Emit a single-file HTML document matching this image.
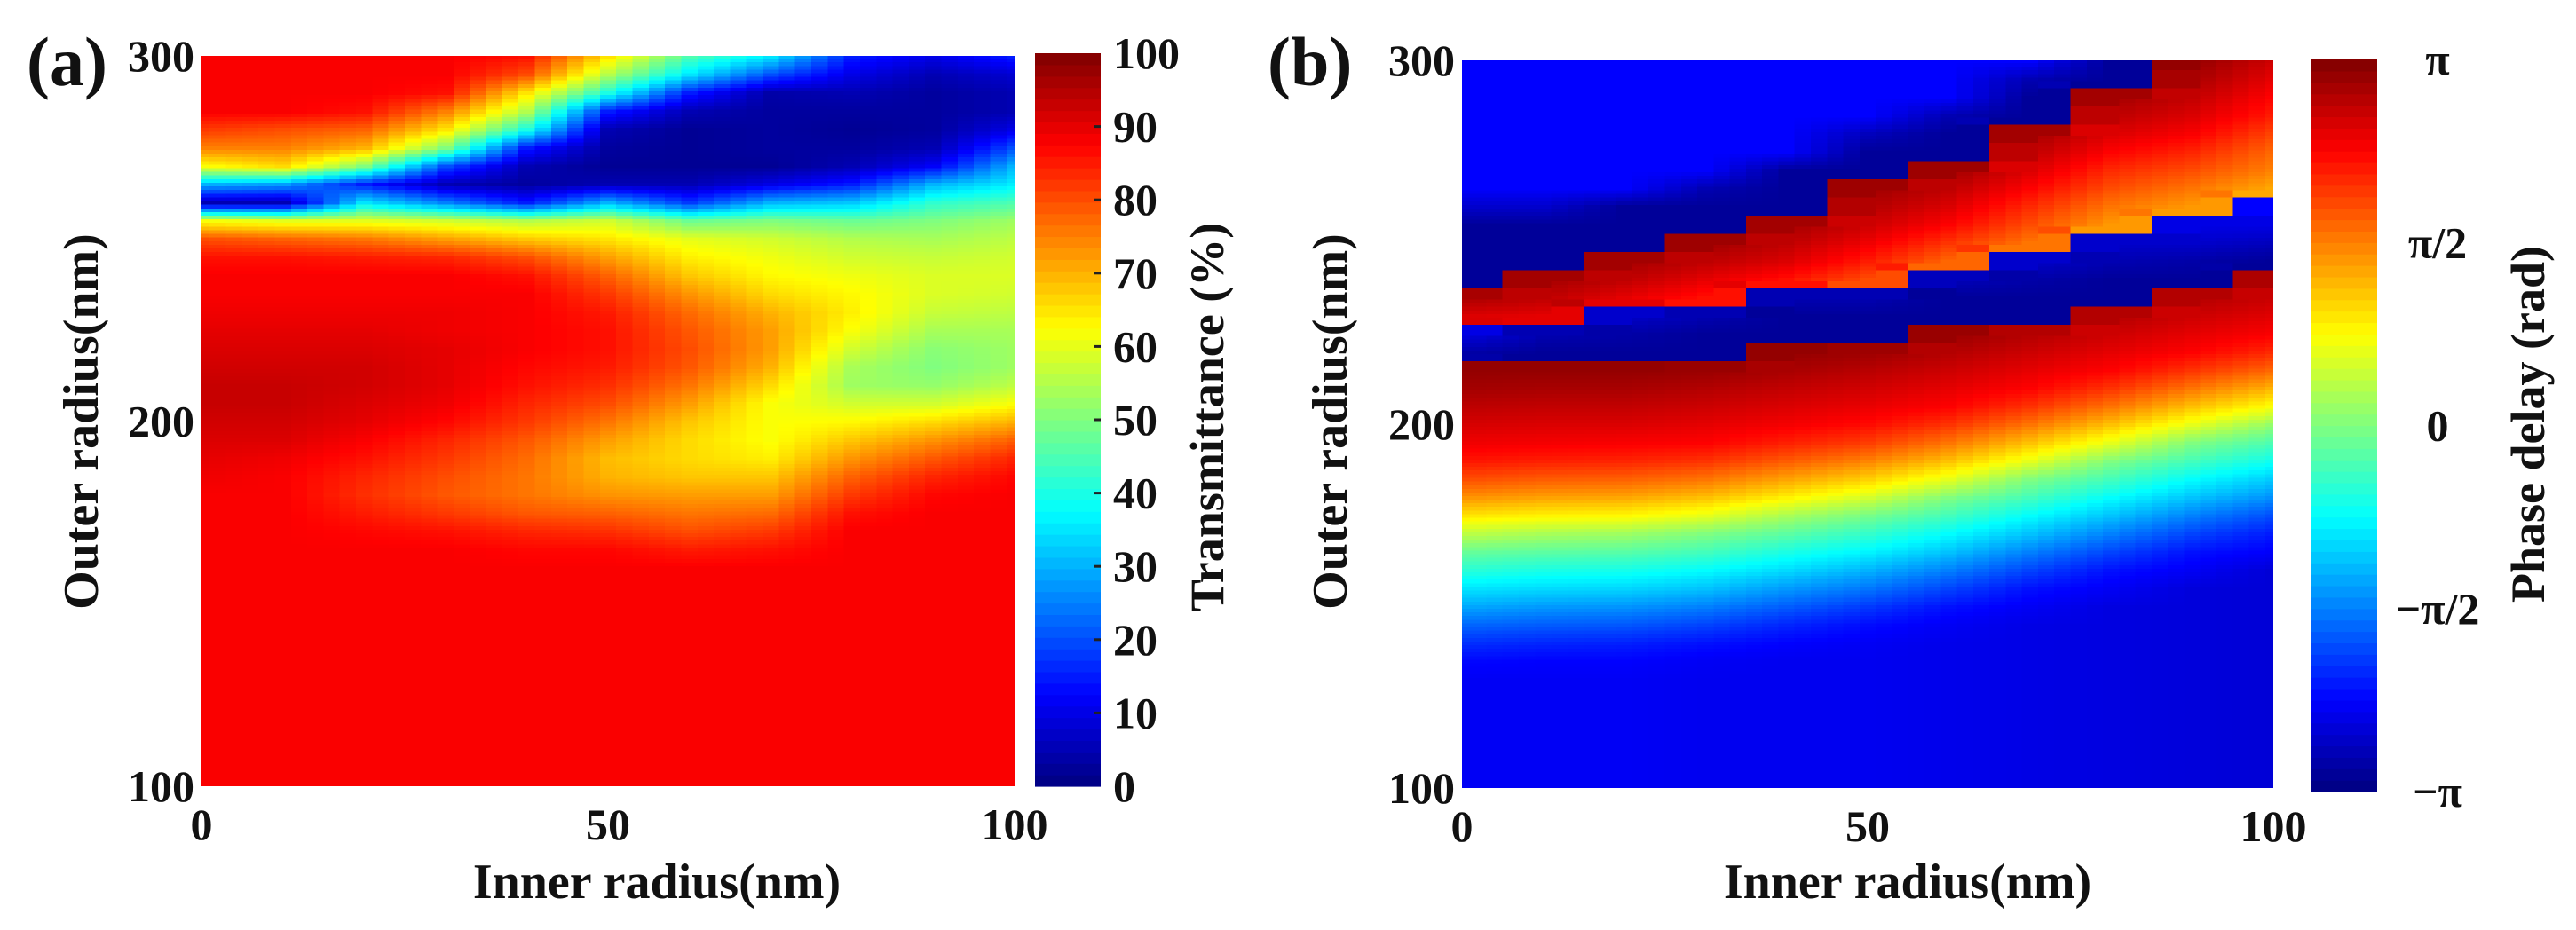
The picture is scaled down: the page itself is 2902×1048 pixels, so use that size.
<!DOCTYPE html>
<html><head><meta charset="utf-8"><style>
html,body{margin:0;padding:0;background:#fff;}
svg{display:block;}
text{font-family:"Liberation Serif","DejaVu Serif",serif;font-weight:bold;fill:#111;}
</style></head>
<body>
<svg id="fig" width="2902" height="1048" viewBox="0 0 2902 1048" xmlns="http://www.w3.org/2000/svg">
<defs>
<clipPath id="clipA"><rect x="227" y="63" width="916" height="823"/></clipPath>
<clipPath id="clipB"><rect x="1647" y="68" width="914" height="820"/></clipPath>
</defs>
<g id="panelA">
<text x="30" y="96" font-size="78" font-weight="normal">(a)</text>
<g id="heatA" clip-path="url(#clipA)" shape-rendering="crispEdges"></g>
<g id="axesA"></g>
<text x="740" y="1012" font-size="56" text-anchor="middle">Inner radius(nm)</text>
<text transform="translate(110,475) rotate(-90)" font-size="56" text-anchor="middle">Outer radius(nm)</text>
<g id="cbarA"></g>
<text transform="translate(1378,470) rotate(-90)" font-size="54" text-anchor="middle">Transmittance (%)</text>
</g>
<g id="panelB">
<text x="1428" y="96" font-size="78" font-weight="normal">(b)</text>
<g id="heatB" clip-path="url(#clipB)" shape-rendering="crispEdges"></g>
<g id="axesB"></g>
<text x="2149" y="1012" font-size="56" text-anchor="middle">Inner radius(nm)</text>
<text transform="translate(1517,475) rotate(-90)" font-size="56" text-anchor="middle">Outer radius(nm)</text>
<g id="cbarB"></g>
<text transform="translate(2866,478) rotate(-90)" font-size="54" text-anchor="middle">Phase delay (rad)</text>
</g>
</svg>
<script>
// ---- data ----
const innerRadius = [0,10,20,30,40,50,60,70,80,90,100];
const outerRadius = [300,295,290,285,280,275,270,265,260,255,250,245,240,235,230,225,220,215,210,205,200,195,190,185,180,175,170,165,160,155,150,145,140,135,130,125,120,115,110,105,100];
const xTicks = [0,50,100];
const yTicks = [100,200,300];
const cbarATicks = [0,10,20,30,40,50,60,70,80,90,100];
const cbarBTickValues = [-1,-0.5,0,0.5,1];
const cbarBTickLabels = ['\u2212\u03c0','\u2212\u03c0/2','0','\u03c0/2','\u03c0'];

// Transmittance (%) per inner-radius column, rows top (300nm) to bottom (100nm)
const transA0 = [88,88,88,88,82,75,62,30,5,62,80,86,88,88,89,90,91,92,93,93,92,91,90,89,88,88,88,88,88,88,88,88,88,88,88,88,88,88,88,88,88];
const transA10 = [88,88,88,88,80,75,66,28,5,60,78,86,88,88,89,90,91,92,93,93,92,91,89,88,88,88,88,88,88,88,88,88,88,88,88,88,88,88,88,88,88];
const transA20 = [88,88,88,86,78,70,50,15,35,60,76,85,88,88,89,90,91,92,92,91,90,88,86,84,83,85,87,88,88,88,88,88,88,88,88,88,88,88,88,88,88];
const transA30 = [88,88,86,75,65,50,20,5,25,58,72,84,88,88,89,89,90,90,90,89,87,84,82,80,79,82,86,88,88,88,88,88,88,88,88,88,88,88,88,88,88];
const transA40 = [86,80,65,55,40,15,5,3,15,55,68,80,86,88,88,88,88,87,86,84,82,79,77,76,76,79,84,87,88,88,88,88,88,88,88,88,88,88,88,88,88];
const transA50 = [65,55,40,15,5,3,2,5,30,58,65,72,78,82,85,86,86,85,83,80,76,72,69,70,73,78,83,87,88,88,88,88,88,88,88,88,88,88,88,88,88];
const transA60 = [45,35,15,5,2,2,2,5,18,48,60,64,68,73,77,79,80,79,76,72,68,66,66,68,72,76,80,85,88,88,88,88,88,88,88,88,88,88,88,88,88];
const transA70 = [35,20,4,3,3,3,2,10,30,50,58,61,63,66,70,72,72,70,66,62,62,62,64,68,72,77,82,86,88,88,88,88,88,88,88,88,88,88,88,88,88];
const transA80 = [15,10,5,3,2,3,5,15,32,48,55,58,61,63,64,62,58,54,53,58,63,68,73,78,82,86,88,88,88,88,88,88,88,88,88,88,88,88,88,88,88];
const transA90 = [10,5,3,3,3,5,12,30,42,50,54,57,59,59,57,54,51,50,52,58,66,73,79,84,87,88,88,88,88,88,88,88,88,88,88,88,88,88,88,88,88];
const transA100 = [15,8,5,5,10,20,30,36,45,53,56,58,59,58,56,54,53,53,56,62,70,78,84,87,88,88,88,88,88,88,88,88,88,88,88,88,88,88,88,88,88];

// Phase delay (units of pi) per inner-radius column, rows top (300nm) to bottom (100nm)
const phaseB0 = [-0.75,-0.75,-0.75,-0.75,-0.75,-0.75,-0.75,-0.75,-0.85,-0.95,-0.95,-0.95,-0.95,0.92,0.82,-0.8,-0.92,0.96,0.93,0.88,0.83,0.78,0.71,0.6,0.46,0.3,0.12,-0.05,-0.17,-0.3,-0.42,-0.55,-0.66,-0.74,-0.77,-0.77,-0.77,-0.77,-0.77,-0.77,-0.77];
const phaseB10 = [-0.75,-0.75,-0.75,-0.75,-0.75,-0.75,-0.75,-0.75,-0.85,-0.95,-0.95,-0.95,0.93,0.88,0.8,-0.9,-0.95,0.96,0.92,0.87,0.82,0.77,0.69,0.57,0.43,0.27,0.08,-0.07,-0.2,-0.32,-0.45,-0.57,-0.68,-0.75,-0.77,-0.77,-0.77,-0.77,-0.77,-0.77,-0.77];
const phaseB20 = [-0.75,-0.75,-0.75,-0.75,-0.75,-0.75,-0.75,-0.75,-0.95,-0.95,-0.95,0.93,0.88,0.8,-0.85,-0.92,-0.95,0.96,0.92,0.87,0.82,0.76,0.68,0.56,0.42,0.26,0.06,-0.08,-0.21,-0.33,-0.46,-0.58,-0.69,-0.75,-0.77,-0.77,-0.77,-0.77,-0.77,-0.77,-0.77];
const phaseB30 = [-0.75,-0.75,-0.75,-0.75,-0.75,-0.75,-0.75,-0.9,-0.95,-0.95,0.94,0.88,0.8,0.72,-0.9,-0.95,-0.95,0.95,0.9,0.85,0.8,0.75,0.65,0.52,0.37,0.2,0,-0.12,-0.25,-0.37,-0.5,-0.62,-0.72,-0.77,-0.78,-0.78,-0.78,-0.78,-0.78,-0.78,-0.78];
const phaseB40 = [-0.75,-0.75,-0.75,-0.75,-0.75,-0.75,-0.95,-0.95,-0.95,0.93,0.88,0.82,0.72,-0.9,-0.95,-0.95,0.96,0.92,0.87,0.82,0.77,0.69,0.57,0.43,0.27,0.08,-0.07,-0.2,-0.32,-0.45,-0.57,-0.68,-0.75,-0.78,-0.78,-0.78,-0.78,-0.78,-0.78,-0.78,-0.78];
const phaseB50 = [-0.75,-0.75,-0.75,-0.75,-0.88,-0.95,-0.95,0.94,0.9,0.85,0.78,0.7,0.6,-0.9,-0.95,-0.95,0.94,0.89,0.84,0.79,0.73,0.63,0.49,0.34,0.16,-0.02,-0.15,-0.27,-0.4,-0.52,-0.64,-0.73,-0.77,-0.78,-0.78,-0.78,-0.78,-0.78,-0.78,-0.78,-0.78];
const phaseB60 = [-0.75,-0.75,-0.75,-0.9,-0.95,-0.95,0.94,0.88,0.82,0.75,0.65,0.55,-0.88,-0.95,-0.95,0.95,0.9,0.85,0.8,0.75,0.65,0.52,0.37,0.2,0,-0.12,-0.25,-0.37,-0.5,-0.62,-0.72,-0.77,-0.79,-0.79,-0.79,-0.79,-0.79,-0.79,-0.79,-0.79,-0.79];
const phaseB70 = [-0.75,-0.9,-0.95,-0.95,0.93,0.88,0.82,0.75,0.67,0.6,0.52,-0.85,-0.92,-0.95,-0.95,0.9,0.85,0.8,0.75,0.65,0.52,0.37,0.2,0,-0.12,-0.25,-0.37,-0.5,-0.62,-0.72,-0.77,-0.8,-0.8,-0.8,-0.8,-0.8,-0.8,-0.8,-0.8,-0.8,-0.8];
const phaseB80 = [-0.95,-0.95,0.93,0.88,0.82,0.75,0.67,0.6,0.52,0.45,-0.85,-0.9,-0.95,-0.95,0.9,0.85,0.8,0.75,0.65,0.52,0.37,0.2,0,-0.12,-0.25,-0.37,-0.5,-0.62,-0.72,-0.77,-0.81,-0.81,-0.81,-0.81,-0.81,-0.81,-0.81,-0.81,-0.81,-0.81,-0.81];
const phaseB90 = [0.96,0.92,0.87,0.82,0.76,0.68,0.6,0.52,0.45,-0.8,-0.85,-0.92,-0.95,0.9,0.85,0.8,0.75,0.65,0.52,0.37,0.2,0,-0.12,-0.25,-0.37,-0.5,-0.62,-0.72,-0.77,-0.82,-0.82,-0.82,-0.82,-0.82,-0.82,-0.82,-0.82,-0.82,-0.82,-0.82,-0.82];
const phaseB100 = [0.85,0.8,0.75,0.7,0.62,0.55,0.5,0.42,-0.75,-0.8,-0.88,-0.95,0.91,0.86,0.81,0.76,0.67,0.55,0.4,0.24,0.04,-0.1,-0.22,-0.35,-0.47,-0.6,-0.7,-0.76,-0.83,-0.83,-0.83,-0.83,-0.83,-0.83,-0.83,-0.83,-0.83,-0.83,-0.83,-0.83,-0.83];

const transmittance = [transA0,transA10,transA20,transA30,transA40,transA50,transA60,transA70,transA80,transA90,transA100];
const phase = [phaseB0,phaseB10,phaseB20,phaseB30,phaseB40,phaseB50,phaseB60,phaseB70,phaseB80,phaseB90,phaseB100];

// ---- rendering ----
const NS = 'http://www.w3.org/2000/svg';
function jet(t){
  t = Math.max(0, Math.min(1, t));
  const c = v => Math.round(255*Math.max(0, Math.min(1, v)));
  return 'rgb(' + c(1.5-Math.abs(4*t-3)) + ',' + c(1.5-Math.abs(4*t-2)) + ',' + c(1.5-Math.abs(4*t-1)) + ')';
}
function mk(tag, attrs, parent){
  const e = document.createElementNS(NS, tag);
  for (const k in attrs) e.setAttribute(k, attrs[k]);
  parent.appendChild(e);
  return e;
}
function scale(d0,d1,r0,r1){ return v => r0 + (v-d0)/(d1-d0)*(r1-r0); }

function locate(arr, v){
  const n = arr.length;
  const dir = arr[n-1] > arr[0] ? 1 : -1;
  for (let i = 0; i < n-1; i++){
    const a = arr[i], b = arr[i+1];
    if ((dir > 0 && v >= a && v <= b) || (dir < 0 && v <= a && v >= b)){
      return [i, (v-a)/(b-a)];
    }
  }
  return (dir > 0 ? v < arr[0] : v > arr[0]) ? [0,0] : [n-2,1];
}

function sample(grid, xv, yv, wrapSafe){
  const [ci, fx] = locate(innerRadius, xv);
  const [ri, fy] = locate(outerRadius, yv);
  const a = grid[ci][ri], b = grid[ci+1][ri], c = grid[ci][ri+1], d = grid[ci+1][ri+1];
  if (wrapSafe){
    const mx = Math.max(a,b,c,d), mn = Math.min(a,b,c,d);
    if (mx - mn > 0.6){
      const col = fx < 0.5 ? ci : ci+1, row = fy < 0.5 ? ri : ri+1;
      return grid[col][row];
    }
  }
  return a*(1-fx)*(1-fy) + b*fx*(1-fy) + c*(1-fx)*fy + d*fx*fy;
}

function drawHeat(gid, grid, box, norm, wrapSafe){
  const g = document.getElementById(gid);
  const xs = scale(0,100,box.x0,box.x1);
  const ys = scale(100,300,box.y1,box.y0);
  const dx = 2, dy = 1;
  for (let xv = 0; xv <= 100; xv += dx){
    for (let yv = 100; yv <= 300; yv += dy){
      const v = sample(grid, xv, yv, wrapSafe);
      const xl = xs(xv - dx/2), xr = xs(xv + dx/2);
      const yt = ys(yv + dy/2), yb = ys(yv - dy/2);
      const rect = mk('rect', {x: xl.toFixed(1), y: yt.toFixed(1), width: (xr-xl+1).toFixed(1), height: (yb-yt+1).toFixed(1), fill: jet(norm(v))}, g);
      
      
    }
  }
}

function drawAxes(gid, box, suffix){
  const g = document.getElementById(gid);
  const xs = scale(0,100,box.x0,box.x1);
  const ys = scale(100,300,box.y1,box.y0);
  xTicks.forEach(t => {
    const tx = mk('text', {x: xs(t), y: box.y1 + 60, 'font-size': 50, 'text-anchor': 'middle'}, g);
    tx.textContent = t;
    
    
  });
  yTicks.forEach(t => {
    const tx = mk('text', {x: box.x0 - 8, y: ys(t) + 17, 'font-size': 50, 'text-anchor': 'end'}, g);
    tx.textContent = t;
    
    
  });
}

function drawColorbar(gid, box, vmin, vmax, tickVals, tickLabels, suffix){
  const g = document.getElementById(gid);
  const n = 64;
  const h = (box.y1 - box.y0) / n;
  for (let i = 0; i < n; i++){
    const r = mk('rect', {x: box.x0, y: (box.y1 - (i+1)*h).toFixed(2), width: box.x1-box.x0, height: (h+0.6).toFixed(2), fill: jet((i+0.5)/n)}, g);
    
    
  }
  const ys = scale(vmin, vmax, box.y1, box.y0);
  tickVals.forEach((v, i) => {
    const y = ys(v);
    if (i > 0 && i < tickVals.length-1 && suffix === 'a'){
      const tk = mk('line', {x1: box.x1-8, x2: box.x1, y1: y, y2: y, stroke: '#222', 'stroke-width': 3}, g);
      
      
    }
    const tx = mk('text', {x: suffix === 'a' ? box.x1 + 14 : box.x1 + 68, y: y + 17, 'font-size': 50, 'text-anchor': suffix === 'a' ? 'start' : 'middle', 'font-weight': suffix === 'a' ? 'bold' : 'normal'}, g);
    tx.textContent = tickLabels[i];
    
    
  });
}

const boxA = {x0: 227, x1: 1143, y0: 63, y1: 886};
const boxB = {x0: 1647, x1: 2561, y0: 68, y1: 888};
drawHeat('heatA', transmittance, boxA, v => v/100, false);
drawHeat('heatB', phase, boxB, v => (v+1)/2, true);
drawAxes('axesA', boxA, 'a');
drawAxes('axesB', boxB, 'b');
drawColorbar('cbarA', {x0: 1166, x1: 1240, y0: 60, y1: 886}, 0, 100, cbarATicks, cbarATicks.map(String), 'a');
drawColorbar('cbarB', {x0: 2603, x1: 2678, y0: 67, y1: 892}, -1, 1, cbarBTickValues, cbarBTickLabels, 'b');
</script>
</body></html>
